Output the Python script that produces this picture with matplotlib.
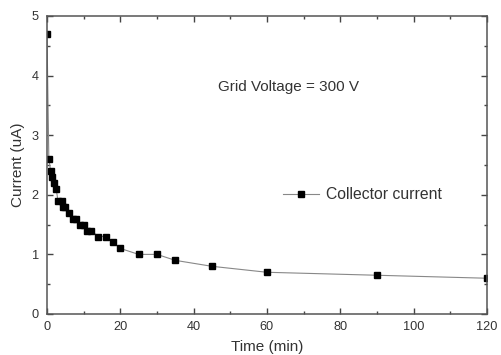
import matplotlib
matplotlib.use("Agg")
import matplotlib.pyplot as plt
from matplotlib.ticker import MultipleLocator

plt.rcParams['font.family'] = ['Liberation Sans', 'DejaVu Sans']

time_min = [0, 0.5, 1, 1.5, 2, 2.5, 3, 4, 4.5, 5, 6, 7, 8, 9, 10, 11, 12,
            14, 16, 18, 20, 25, 30, 35, 45, 60, 90, 120]
current_ua = [4.7, 2.6, 2.4, 2.3, 2.2, 2.1, 1.9, 1.9, 1.8, 1.8, 1.7, 1.6, 1.6,
              1.5, 1.5, 1.4, 1.4, 1.3, 1.3, 1.2, 1.1, 1.0, 1.0, 0.9, 0.8,
              0.7, 0.65, 0.6]
series_label = "Collector current"
annotation = "Grid Voltage = 300 V"

fig = plt.figure(figsize=(5.01, 3.55), dpi=100)
ax = fig.add_axes([0.0938, 0.1155, 0.878, 0.8395])

ax.plot(time_min, current_ua, color='#888888', lw=0.8, marker='s',
        markersize=4.2, markerfacecolor='black', markeredgecolor='black',
        label=series_label)

ax.set_xlim(0, 120)
ax.set_ylim(0, 5)
ax.xaxis.set_major_locator(MultipleLocator(20))
ax.xaxis.set_minor_locator(MultipleLocator(10))
ax.yaxis.set_major_locator(MultipleLocator(1))
ax.yaxis.set_minor_locator(MultipleLocator(0.5))
ax.tick_params(which='both', direction='in', top=True, right=True,
               colors='#444444', labelcolor='#333333', width=1.0)
ax.tick_params(which='major', length=4, labelsize=9.2)
ax.tick_params(axis='x', which='major', pad=5)
ax.tick_params(axis='y', which='major', pad=6)
ax.tick_params(which='minor', length=2.5)
for s in ax.spines.values():
    s.set_color('#555555')
    s.set_linewidth(1.1)

ax.set_xlabel("Time (min)", fontsize=11, color='#333333', labelpad=5)
ax.set_ylabel("Current (uA)", fontsize=11, color='#333333', labelpad=5)

ax.text(46.6, 3.81, annotation, fontsize=11, color='#333333',
        ha='left', va='center')

leg = ax.legend(loc='center left', bbox_to_anchor=(0.505, 0.40),
                frameon=False, fontsize=11.3, handlelength=2.3,
                handletextpad=0.45, labelcolor='#333333')

fig.savefig("out.png", dpi=100)
